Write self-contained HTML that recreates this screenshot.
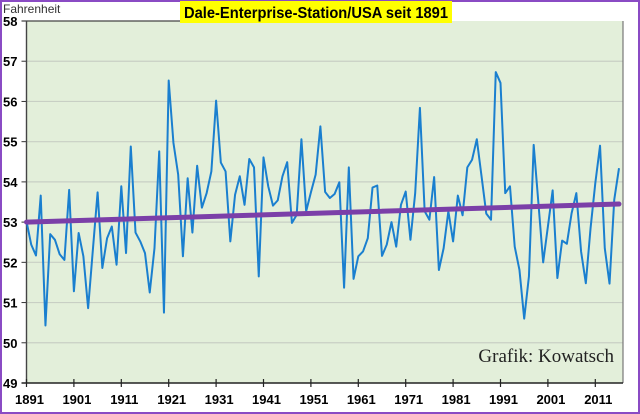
<!DOCTYPE html>
<html><head><meta charset="utf-8"><style>
html,body{margin:0;padding:0;background:#fff}
#wrap{position:relative;width:640px;height:414px;overflow:hidden}
svg text{font-family:"Liberation Sans",Arial,sans-serif}
</style></head><body>
<div id="wrap">
<svg id="chart" width="640" height="414" viewBox="0 0 640 414"></svg>
</div>
<script>
const years = [];
for (let y = 1891; y <= 2016; y++) years.push(y);
const temps = [53.02,52.44,52.17,53.66,50.43,52.70,52.56,52.20,52.06,53.80,51.28,52.73,52.15,50.86,52.31,53.74,51.86,52.60,52.89,51.94,53.89,52.23,54.88,52.74,52.52,52.23,51.25,52.35,54.76,50.75,56.52,54.97,54.18,52.15,54.09,52.74,54.40,53.36,53.72,54.26,56.02,54.48,54.26,52.52,53.68,54.14,53.43,54.57,54.36,51.65,54.61,53.89,53.41,53.54,54.14,54.49,52.98,53.18,55.06,53.27,53.74,54.18,55.38,53.75,53.60,53.70,53.99,51.37,54.36,51.59,52.15,52.27,52.60,53.86,53.91,52.16,52.44,53.00,52.39,53.43,53.76,52.56,53.72,55.84,53.27,53.06,54.12,51.81,52.35,53.27,52.52,53.66,53.17,54.36,54.55,55.06,54.14,53.21,53.06,56.73,56.46,53.72,53.89,52.39,51.81,50.60,51.65,54.92,53.47,52.00,52.89,53.79,51.61,52.54,52.46,53.22,53.72,52.27,51.48,52.85,53.97,54.90,52.35,51.47,53.56,54.34];
const trendStart = 53.0;
const trendEnd = 53.45;
const yTicks = [49,50,51,52,53,54,55,56,57,58];
const xTickYears = [1891,1901,1911,1921,1931,1941,1951,1961,1971,1981,1991,2001,2011];

const NS = "http://www.w3.org/2000/svg";
const svg = document.getElementById('chart');
const L = 26.5, R = 623, T = 21, B = 383;
const yMin = 49, yMax = 58, x0 = 1891, pxPerYear = 4.74;
const X = yr => L + (yr - x0) * pxPerYear;
const Y = v => B - (v - yMin) / (yMax - yMin) * (B - T);
function mk(tag, attrs){const e=document.createElementNS(NS,tag);for(const k in attrs)e.setAttribute(k,attrs[k]);svg.appendChild(e);return e;}

const border = mk('rect',{x:1,y:1,width:638,height:412,fill:'#fff',stroke:'#8a4bc4','stroke-width':2});


const plot = mk('rect',{x:L,y:T,width:R-L,height:B-T,fill:'#e3efda',stroke:'none'});



yTicks.forEach(v=>{
  const y = Y(v);
  if (v > yMin && v < yMax) {
    const g = mk('line',{x1:L,x2:R,y1:y,y2:y,stroke:'#c8cfc4','stroke-width':1.2});
    
    
  }
  const tk = mk('line',{x1:L-5,x2:L,y1:y,y2:y,stroke:'#333','stroke-width':1});
  
  
  const t = mk('text',{x:3,y:y+5,'font-size':13,'font-weight':'bold',fill:'#000'});
  t.textContent = v;
  
  
});
const topLine = mk('line',{x1:L-5,x2:180,y1:T,y2:T,stroke:'#444','stroke-width':1.2});


const rightLine = mk('line',{x1:R,x2:R,y1:T,y2:B,stroke:'#777','stroke-width':1.2});


const yAxis = mk('line',{x1:L,x2:L,y1:T,y2:B,stroke:'#444','stroke-width':1.4});


const xAxis = mk('line',{x1:L-5,x2:R,y1:B,y2:B,stroke:'#222','stroke-width':1.6});



xTickYears.forEach(yr=>{
  const x = X(yr);
  const tk = mk('line',{x1:x,x2:x,y1:B-4,y2:B+4,stroke:'#222','stroke-width':1.2});
  
  
  const t = mk('text',{x:x+3,y:B+21,'font-size':13,'font-weight':'bold','text-anchor':'middle',fill:'#000'});
  t.textContent = yr;
  
  
});

const pts = years.map((yr,i)=>X(yr).toFixed(2)+','+Y(temps[i]).toFixed(2)).join(' ');
const line = mk('polyline',{points:pts,fill:'none',stroke:'#1a7fcf','stroke-width':2,'stroke-linejoin':'round'});



const trend = mk('line',{x1:X(years[0]),y1:Y(trendStart),x2:X(years[years.length-1]),y2:Y(trendEnd),stroke:'#7b3fa8','stroke-width':5,'stroke-linecap':'round'});



const unit = mk('text',{x:3,y:13,'font-size':12,fill:'#333'});
unit.textContent = 'Fahrenheit';



const tb = mk('rect',{x:180,y:1,width:272,height:22,fill:'#ffff00'});


const title = mk('text',{x:184,y:18,'font-size':16,'font-weight':'bold',textLength:264,lengthAdjust:'spacingAndGlyphs',fill:'#000'});
title.textContent = 'Dale-Enterprise-Station/USA seit 1891';



const credit = mk('text',{x:614,y:362,'font-size':19,'text-anchor':'end',fill:'#222'});
credit.setAttribute('style','font-family:"Liberation Serif",serif');
credit.textContent = 'Grafik: Kowatsch';


</script>
</body></html>
